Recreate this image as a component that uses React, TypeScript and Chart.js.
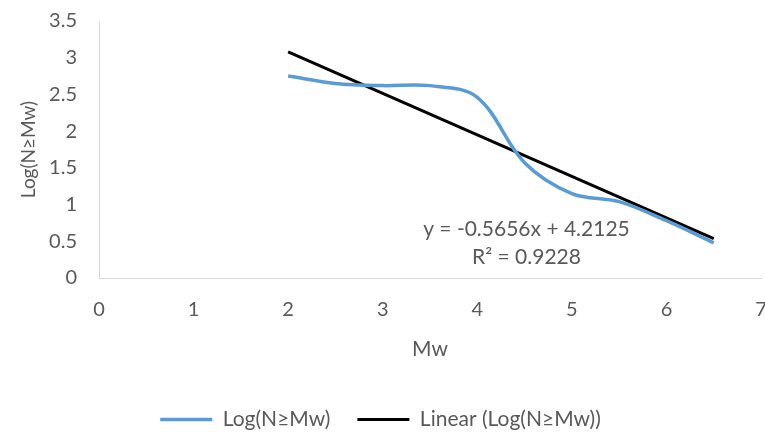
import React, { useEffect, useRef } from 'react';
import { Chart, registerables } from 'chart.js';
Chart.register(...registerables);

const mwValues = [2, 2.5, 3, 3.5, 4, 4.5, 5, 5.5, 6, 6.5];
const logValues = [2.75, 2.65, 2.62, 2.62, 2.46, 1.57, 1.15, 1.04, 0.78, 0.48];
const trendX = [2, 6.5];
const trendY = [3.081, 0.536];
const xTicks = [0, 1, 2, 3, 4, 5, 6, 7];
const yTicks = [0, 0.5, 1, 1.5, 2, 2.5, 3, 3.5];
const equationText = 'y = -0.5656x + 4.2125';
const r2Text = 'R² = 0.9228';
const seriesLabel = 'Log(N≥Mw)';
const trendLabel = 'Linear (Log(N≥Mw))';
const xTitle = 'Mw';
const yTitle = 'Log(N≥Mw)';

const FONT = 'Lato, "DejaVu Sans", sans-serif';
const TEXT = '#595959';

const eqPlugin = {
  id: 'eqText',
  afterDatasetsDraw(chart: any) {
    const { ctx, scales } = chart;
    const x = scales.x;
    const y = scales.y;
    ctx.save();
    ctx.font = `21px ${FONT}`;
    ctx.fillStyle = TEXT;
    ctx.textAlign = 'center';
    ctx.textBaseline = 'middle';
    ctx.fillText(equationText, x.getPixelForValue(4.52), y.getPixelForValue(0.66));
    ctx.fillText(r2Text, x.getPixelForValue(4.52), y.getPixelForValue(0.28));
    ctx.restore();
  },
};

export default function App() {
  const ref = useRef<HTMLCanvasElement>(null);
  useEffect(() => {
    if (!ref.current) return;
    const chart = new Chart(ref.current, {
      type: 'scatter',
      data: {
        datasets: [
          {
            label: seriesLabel,
            data: mwValues.map((v, i) => ({ x: v, y: logValues[i] })),
            showLine: true,
            borderColor: '#5B9BD5',
            backgroundColor: '#5B9BD5',
            borderWidth: 3.5,
            pointRadius: 0,
            tension: 0.35,
          },
          {
            label: trendLabel,
            data: trendX.map((v, i) => ({ x: v, y: trendY[i] })),
            showLine: true,
            borderColor: '#000000',
            backgroundColor: '#000000',
            borderWidth: 3,
            pointRadius: 0,
          },
        ],
      },
      options: {
        animation: false,
        responsive: false,
        maintainAspectRatio: false,
        layout: { padding: { top: 21, left: 0, right: 4, bottom: 0 } },
        plugins: {
          tooltip: { enabled: false },
          legend: {
            position: 'bottom',
            labels: {
              usePointStyle: true,
              pointStyle: 'line',
              pointStyleWidth: 52,
              boxHeight: 21,
              color: TEXT,
              font: { family: FONT, size: 21 },
              padding: 27,
            },
          },
        },
        scales: {
          x: {
            type: 'linear',
            min: 0,
            max: 7,
            afterBuildTicks: (s: any) => { s.ticks = xTicks.map((v) => ({ value: v })); },
            afterFit: (s: any) => { s.paddingRight = 0; s.paddingLeft = 0; s.height = 104; },
            grid: { display: false, drawTicks: false },
            border: { display: true, color: '#D9D9D9', width: 1 },
            ticks: { color: TEXT, font: { family: FONT, size: 20 }, padding: 20 },
            title: { display: true, text: xTitle, color: TEXT, font: { family: FONT, size: 21 }, padding: { top: 0, bottom: 20 } },
          },
          y: {
            type: 'linear',
            min: 0,
            max: 3.5,
            afterBuildTicks: (s: any) => { s.ticks = yTicks.map((v) => ({ value: v })); },
            afterFit: (s: any) => { s.width = 99; s.paddingTop = 0; s.paddingBottom = 0; },
            grid: { display: false, drawTicks: false },
            border: { display: true, color: '#D9D9D9', width: 1 },
            ticks: { color: TEXT, font: { family: FONT, size: 20 }, padding: 22, callback: (v: any) => String(v) },
            title: { display: true, text: yTitle, color: TEXT, font: { family: FONT, size: 19 }, padding: { top: 17, bottom: 0 } },
          },
        },
      },
      plugins: [eqPlugin],
    });
    return () => chart.destroy();
  }, []);
  return (
    <div style={{ position: 'fixed', left: 0, top: 0, width: 765, height: 432, background: '#fff', overflow: 'hidden' }}>
      <canvas ref={ref} width={765} height={440} style={{ width: 765, height: 440, display: 'block' }} />
    </div>
  );
}
